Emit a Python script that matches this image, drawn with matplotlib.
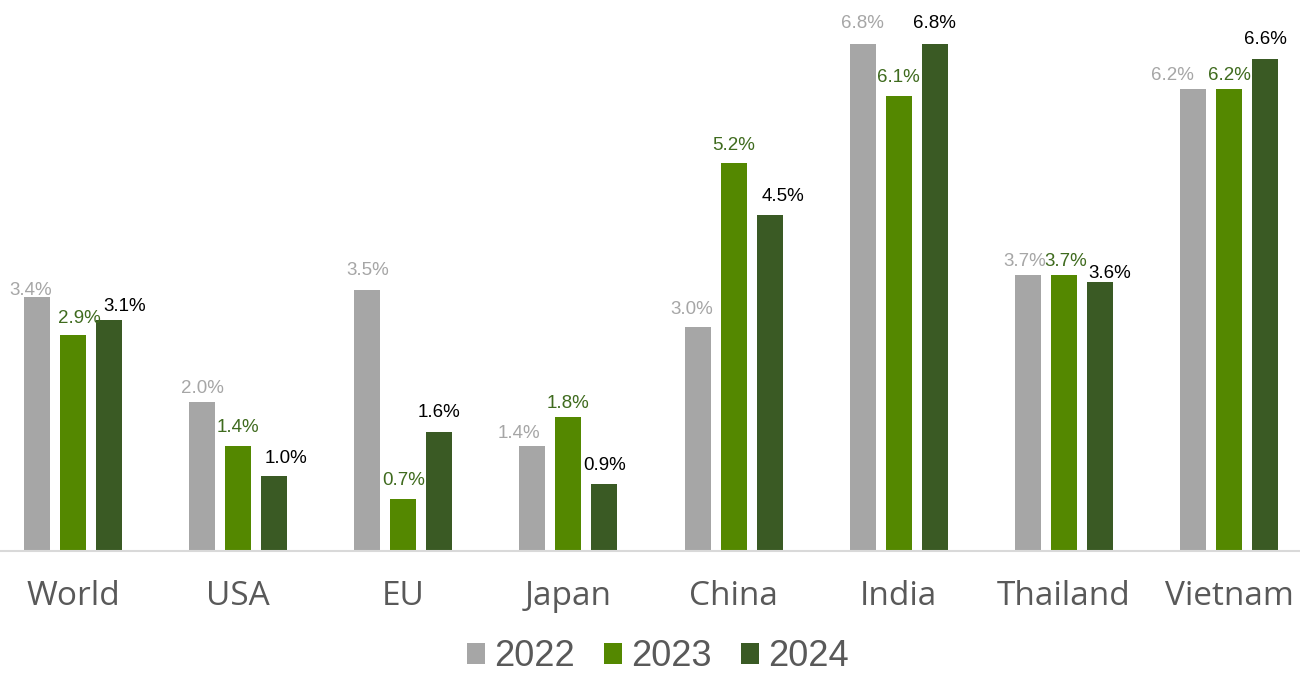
import matplotlib.pyplot as plt
import numpy as np

# GDP growth by economy, three years
regions = ["World", "USA", "EU", "Japan", "China", "India", "Thailand", "Vietnam"]
years = ["2022", "2023", "2024"]
growth_2022 = [3.4, 2.0, 3.5, 1.4, 3.0, 6.8, 3.7, 6.2]
growth_2023 = [2.9, 1.4, 0.7, 1.8, 5.2, 6.1, 3.7, 6.2]
growth_2024 = [3.1, 1.0, 1.6, 0.9, 4.5, 6.8, 3.6, 6.6]

bar_colors = ["#A6A6A6", "#548800", "#3A5A24"]
label_colors = ["#A6A6A6", "#3F6B1E", "#000000"]

# hand-placed data label nudges (pixels), like the original slide
label_dx = [[-6, 0, 0, -13, -6, 0, -3, -21],
            [6, 0, 0, 0, 0, 0, 2, 0],
            [16, 12, 0, 0, 13, 0, 10, 0]]
label_dy = [[10, 16, 22, 16, 21, 23, 17, 16],
            [19, 22, 21, 16, 21, 22, 17, 16],
            [16, 21, 22, 21, 22, 23, 12, 22]]

fig = plt.figure(figsize=(13, 6.75), dpi=100)
ax = fig.add_axes([0, 0.184, 1, 0.816])

x = np.arange(len(regions))
w = 0.158
offs = [-0.218, 0, 0.218]
series = [growth_2022, growth_2023, growth_2024]

for i in range(3):
    bars = ax.bar(x + offs[i], series[i], width=w, color=bar_colors[i], label=years[i], zorder=2)
    for j, (b, v) in enumerate(zip(bars, series[i])):
        ax.annotate(f"{v:.1f}%", (b.get_x() + b.get_width() / 2, v),
                    xytext=(label_dx[i][j] * 0.72, (label_dy[i][j] - 3) * 0.72),
                    textcoords="offset points", ha="center", va="center",
                    fontsize=13.5, color=label_colors[i], family="Liberation Sans")

ax.set_xlim(-0.442, 7.43)
ax.set_ylim(0, 7.39)
ax.set_yticks([])
for s in ["top", "right", "left"]:
    ax.spines[s].set_visible(False)
ax.spines["bottom"].set_color("#D9D9D9")
ax.spines["bottom"].set_linewidth(1.5)
ax.set_xticks(x)
ax.set_xticklabels(regions, fontsize=24, color="#595959", family="Open Sans")
ax.tick_params(axis="x", length=0, pad=21)

leg = fig.legend(loc="lower center", bbox_to_anchor=(0.506, -0.047), ncol=3, frameon=False,
                 prop={"family": "Liberation Sans", "size": 26},
                 handlelength=0.5, handleheight=0.5, handletextpad=0.25, columnspacing=0.8)
for t in leg.get_texts():
    t.set_color("#595959")

fig.savefig("out.png", dpi=100)
